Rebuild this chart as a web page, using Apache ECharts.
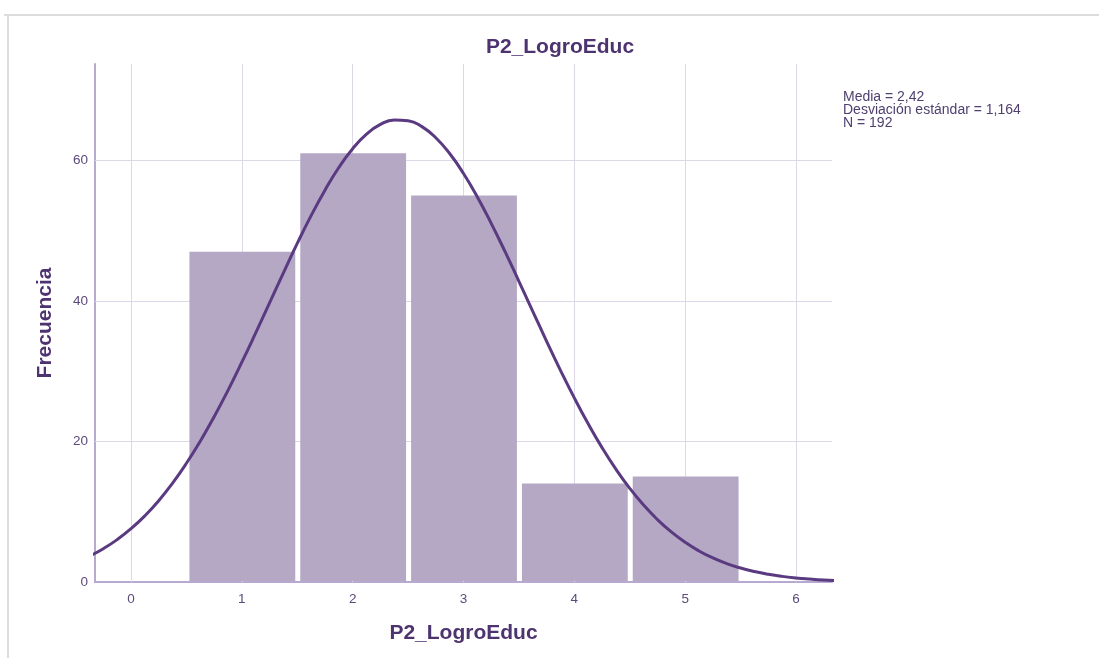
<!DOCTYPE html>
<html>
<head>
<meta charset="utf-8">
<script src="https://cdn.jsdelivr.net/npm/echarts@6/dist/echarts.min.js"></script>
<style>html,body{margin:0;padding:0;background:#fff}#c{width:1099px;height:658px}</style>
</head>
<body>
<div id="c"></div>
<script>
// Histogram bins (value, frequency)
const binValues = [0, 1, 2, 3, 4, 5];
const binCounts = [0, 47, 61, 55, 14, 15];
// Normal curve points (x, frequency)
const curveX = [-0.5, -0.375, -0.25, -0.125, 0, 0.125, 0.25, 0.375, 0.5, 0.625, 0.75, 0.875, 1, 1.125, 1.25, 1.375, 1.5, 1.625, 1.75, 1.875, 2, 2.125, 2.25, 2.375, 2.5, 2.625, 2.75, 2.875, 3, 3.125, 3.25, 3.375, 3.5, 3.625, 3.75, 3.875, 4, 4.125, 4.25, 4.375, 4.5, 4.625, 4.75, 4.875, 5, 5.125, 5.25, 5.375, 5.5, 5.625, 5.75, 5.875, 6, 6.125, 6.25, 6.375, 6.5];
const curveY = [2.83, 3.68, 4.74, 6.03, 7.58, 9.42, 11.57, 14.06, 16.89, 20.04, 23.51, 27.27, 31.27, 35.44, 39.71, 43.98, 48.17, 52.12, 55.75, 58.97, 61.65, 63.72, 65.10, 65.75, 65.64, 64.79, 63.21, 60.96, 58.12, 54.78, 51.03, 47.00, 42.78, 38.51, 34.25, 30.12, 26.19, 22.51, 19.12, 16.06, 13.33, 10.94, 8.88, 7.12, 5.64, 4.42, 3.42, 2.62, 1.99, 1.49, 1.10, 0.80, 0.58, 0.42, 0.29, 0.20, 0.14];
// Tick values
const xTicks = [0, 1, 2, 3, 4, 5, 6];
const yTicks = [0, 20, 40, 60];
const statsLines = ['Media = 2,42', 'Desviación estándar = 1,164', 'N = 192'];
const titleText = 'P2_LogroEduc';
const xName = 'P2_LogroEduc';
const yName = 'Frecuencia';

const FONT = '"Liberation Sans", Arial, sans-serif';
const chart = echarts.init(document.getElementById('c'), null, {renderer: 'canvas'});

const barData = binValues.map((v, i) => [v, binCounts[i]]);
const lineData = curveX.map((x, i) => [x, curveY[i]]);

chart.setOption({
  animation: false,
  backgroundColor: '#fff',
  grid: {left: 95, right: 267, top: 64, bottom: 76, containLabel: false},
  xAxis: {
    type: 'value', min: -0.325, max: 6.325,
    name: xName, nameLocation: 'middle', nameGap: 41,
    nameTextStyle: {fontFamily: FONT, fontSize: 21, fontWeight: 'bold', color: '#4d3370'},
    axisLine: {show: true, onZero: false, lineStyle: {color: '#b7a9d0', width: 2}},
    axisTick: {show: false},
    splitLine: {show: false},
    axisLabel: {
      showMinLabel: false, showMaxLabel: false, margin: 10,
      fontFamily: FONT, fontSize: 13.5, color: '#5c4a7c',
      formatter: v => (xTicks.indexOf(v) >= 0 ? String(v) : '')
    }
  },
  yAxis: {
    type: 'value', min: 0, max: 73.7,
    name: yName, nameLocation: 'middle', nameGap: 39, nameRotate: 90,
    nameTextStyle: {fontFamily: FONT, fontSize: 21, fontWeight: 'bold', color: '#4d3370'},
    axisLine: {show: true, onZero: false, lineStyle: {color: '#b7a9d0', width: 2}},
    axisTick: {show: false},
    splitLine: {show: false},
    axisLabel: {
      showMaxLabel: false, margin: 7,
      fontFamily: FONT, fontSize: 13.5, color: '#5c4a7c',
      formatter: v => (yTicks.indexOf(v) >= 0 ? String(v) : '')
    }
  },
  graphic: [
    {type: 'line', shape: {x1: 4, y1: 15, x2: 1099, y2: 15}, style: {stroke: '#dcdcdc', lineWidth: 2}, silent: true},
    {type: 'line', shape: {x1: 8, y1: 15, x2: 8, y2: 658}, style: {stroke: '#dcdcdc', lineWidth: 2}, silent: true},
    {type: 'text', x: 560, y: 47, silent: true,
     style: {text: titleText, align: 'center', verticalAlign: 'middle', font: 'bold 21px ' + FONT, fill: '#4d3370'}},
    {type: 'text', x: 843, y: 91, silent: true,
     style: {text: statsLines.join('\n'), align: 'left', verticalAlign: 'top', font: '14px ' + FONT, lineHeight: 13, fill: '#4e3f6e'}}
  ],
  series: [
    {
      type: 'line', data: [], z: 1, zlevel: 0, silent: true,
      markLine: {
        silent: true, symbol: 'none', animation: false,
        label: {show: false},
        lineStyle: {color: '#ddd8e8', width: 1, type: 'solid'},
        data: xTicks.map(v => ({xAxis: v})).concat(yTicks.filter(v => v > 0).map(v => ({yAxis: v})))
      }
    },
    {
      type: 'custom', z: 2, zlevel: 1, silent: true,
      data: barData,
      encode: {x: 0, y: 1},
      renderItem: function (params, api) {
        const x = api.value(0), y = api.value(1);
        if (!y) return null;
        const p0 = api.coord([x - 0.5, y]);
        const p1 = api.coord([x + 0.5, 0]);
        return {
          type: 'rect',
          shape: {x: p0[0] + 3, y: p0[1], width: p1[0] - p0[0] - 5, height: p1[1] - p0[1] - 1},
          style: {fill: '#b5a8c4'}
        };
      }
    },
    {
      type: 'line', z: 3, zlevel: 1, silent: true, data: lineData, clip: true,
      smooth: true, showSymbol: false,
      lineStyle: {color: '#5a3a80', width: 3}
    }
  ]
});
</script>
</body>
</html>
